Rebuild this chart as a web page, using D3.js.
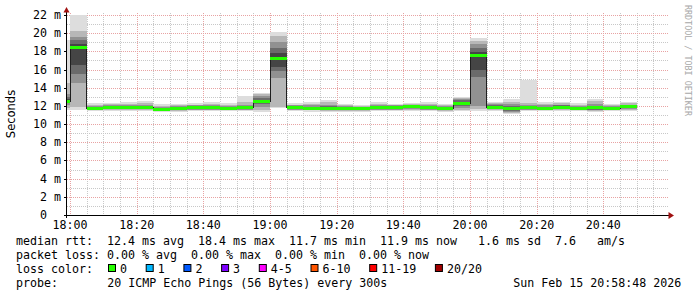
<!DOCTYPE html>
<html>
<head>
<meta charset="utf-8">
<script src="https://cdn.jsdelivr.net/npm/d3@7"></script>
<style>
    body { margin: 0; background: #fff; }
    svg text { font-family: "DejaVu Sans Mono", monospace; font-size: 11.63px; fill: #000; white-space: pre; }
</style>
</head>
<body>
<div id="chart"></div>
<script>
// 5 minute steps (start of each step)
var steps = ["17:55", "18:00", "18:05", "18:10", "18:15", "18:20", "18:25", "18:30", "18:35", "18:40",
    "18:45", "18:50", "18:55", "19:00", "19:05", "19:10", "19:15", "19:20", "19:25", "19:30",
    "19:35", "19:40", "19:45", "19:50", "19:55", "20:00", "20:05", "20:10", "20:15", "20:20",
    "20:25", "20:30", "20:35", "20:40", "20:45"];

// median rtt per step, ms
var median = [12.5, 18.4, 11.75, 11.85, 11.85, 11.8, 11.65, 11.7, 11.8, 11.8,
    11.75, 11.8, 12.5, 17.2, 11.8, 11.7, 11.75, 11.7, 11.7, 11.85,
    11.8, 11.92, 11.8, 11.75, 12.3, 17.5, 11.85, 11.75, 11.8, 11.75,
    11.85, 11.75, 11.8, 11.75, 11.9];

// smoke: sorted ping values per step (outer pair first), ms
var smoke = [
    [11.5, 11.8, 12.1, 12.3, 12.4, 12.8, 13.0, 13.3, 14.5, 19.3],
    [11.55, 11.9, 14.5, 15.5, 16.5, 18.8, 19.2, 19.6, 20.2, 22.0],
    [11.4, 11.5, 11.6, 11.65, 11.7, 11.8, 11.9, 12.0, 12.15, 12.3],
    [11.4, 11.55, 11.65, 11.7, 11.8, 11.9, 12.0, 12.1, 12.2, 12.35],
    [11.45, 11.55, 11.65, 11.75, 11.8, 11.9, 12.0, 12.1, 12.25, 12.45],
    [11.45, 11.55, 11.65, 11.7, 11.75, 11.9, 12.0, 12.15, 12.3, 12.5],
    [11.35, 11.45, 11.55, 11.6, 11.62, 11.7, 11.8, 11.9, 12.0, 12.2],
    [11.3, 11.45, 11.55, 11.6, 11.65, 11.75, 11.85, 11.95, 12.1, 12.25],
    [11.4, 11.5, 11.6, 11.7, 11.75, 11.85, 11.95, 12.05, 12.15, 12.3],
    [11.4, 11.5, 11.6, 11.7, 11.75, 11.85, 11.95, 12.1, 12.25, 12.45],
    [11.4, 11.5, 11.6, 11.65, 11.7, 11.8, 11.9, 12.0, 12.15, 12.3],
    [11.4, 11.5, 11.6, 11.65, 11.72, 11.85, 11.95, 12.1, 12.4, 13.1],
    [11.35, 11.6, 11.9, 12.2, 12.4, 12.7, 12.9, 13.1, 13.3, 13.45],
    [11.75, 11.9, 15.1, 15.8, 16.3, 17.8, 18.4, 19.07, 19.7, 20.17],
    [11.4, 11.5, 11.6, 11.7, 11.75, 11.85, 11.95, 12.05, 12.15, 12.3],
    [11.35, 11.5, 11.6, 11.65, 11.68, 11.78, 11.9, 12.05, 12.25, 12.45],
    [11.35, 11.45, 11.55, 11.6, 11.65, 11.85, 11.95, 12.1, 12.4, 12.7],
    [11.3, 11.4, 11.5, 11.55, 11.6, 11.75, 11.85, 11.95, 12.05, 12.2],
    [11.35, 11.45, 11.55, 11.6, 11.65, 11.75, 11.85, 11.9, 11.95, 12.05],
    [11.4, 11.5, 11.6, 11.7, 11.78, 11.9, 12.0, 12.1, 12.25, 12.4],
    [11.4, 11.5, 11.6, 11.7, 11.75, 11.85, 11.95, 12.05, 12.15, 12.25],
    [11.45, 11.55, 11.65, 11.75, 11.85, 12.0, 12.05, 12.1, 12.2, 12.3],
    [11.4, 11.5, 11.6, 11.7, 11.75, 11.85, 11.95, 12.05, 12.2, 12.4],
    [11.35, 11.45, 11.55, 11.65, 11.7, 11.8, 11.9, 12.0, 12.1, 12.2],
    [11.4, 11.6, 11.8, 12.0, 12.2, 12.45, 12.6, 12.75, 12.85, 12.95],
    [11.4, 11.7, 11.95, 15.2, 16.0, 17.9, 18.4, 18.8, 19.1, 19.5],
    [11.45, 11.55, 11.65, 11.75, 11.8, 12.0, 12.1, 12.2, 12.3, 12.45],
    [11.1, 11.2, 11.35, 11.45, 11.55, 11.85, 12.0, 12.2, 12.45, 12.75],
    [11.45, 11.55, 11.6, 11.7, 11.75, 11.85, 11.95, 12.1, 12.3, 14.8],
    [11.4, 11.5, 11.6, 11.65, 11.7, 11.8, 11.9, 12.05, 12.25, 12.45],
    [11.45, 11.55, 11.65, 11.75, 11.8, 11.95, 12.05, 12.15, 12.3, 12.45],
    [11.4, 11.5, 11.6, 11.65, 11.7, 11.8, 11.9, 12.0, 12.15, 12.35],
    [11.35, 11.45, 11.55, 11.6, 11.65, 11.9, 12.0, 12.2, 12.5, 12.75],
    [11.4, 11.5, 11.6, 11.65, 11.7, 11.8, 11.9, 12.0, 12.1, 12.2],
    [11.45, 11.55, 11.65, 11.75, 11.82, 11.95, 12.05, 12.15, 12.3, 12.45]
];

var yTicks = [0, 2, 4, 6, 8, 10, 12, 14, 16, 18, 20, 22];
var xTicks = ["18:00", "18:20", "18:40", "19:00", "19:20", "19:40", "20:00", "20:20", "20:40"];

var rttStats = ["12.4 ms avg", "18.4 ms max", "11.7 ms min", "11.9 ms now", " 1.6 ms sd", "7.6   am/s"];
var lossStats = ["0.00 % avg", "0.00 % max", "0.00 % min", "0.00 % now"];
var lossLabels = ["0", "1", "2", "3", "4-5", "6-10", "11-19", "20/20"];
var lossColors = ["#26ff00", "#00b8ff", "#0059ff", "#7e00ff", "#ff00ff", "#ff5500", "#ff0000", "#a10000"];
var probeText = "20 ICMP Echo Pings (56 Bytes) every 300s";
var stampText = "Sun Feb 15 20:58:48 2026";

var smokeGreys = ["#dddddd", "#b7b7b7", "#919191", "#6b6b6b", "#454545"];

var chartWidth = 697, chartHeight = 297;
var plotLeft = 67, plotRight = 667, plotTop = 15, plotBottom = 215;

var parseT = function (s) {
    var p = s.split(":");
    return new Date(2026, 1, 15, +p[0], +p[1]);
};
var stepMs = 5 * 60 * 1000;

var x = d3.scaleTime()
    .domain([parseT("18:00"), parseT("21:00")])
    .range([70, 670]);
var y = d3.scaleLinear()
    .domain([0, 22])
    .range([plotBottom, plotTop]);

var svg = d3.select("#chart").append("svg")
    .attr("width", chartWidth)
    .attr("height", chartHeight)
    .style("display", "block");

svg.append("rect").attr("width", chartWidth).attr("height", chartHeight).attr("fill", "#fff");

svg.append("clipPath").attr("id", "plotclip")
    .append("rect").attr("x", plotLeft).attr("y", 0).attr("width", plotRight - plotLeft).attr("height", plotBottom);

// grid
var grid = svg.append("g").attr("shape-rendering", "crispEdges");
var minorY = d3.range(0, 23, 1).filter(function (v) { return v % 2; });
grid.selectAll(".hmin").data(minorY).enter().append("line")
    .attr("x1", plotLeft).attr("x2", plotRight + 1)
    .attr("y1", function (d) { return Math.round(y(d)) + 0.5; })
    .attr("y2", function (d) { return Math.round(y(d)) + 0.5; })
    .attr("stroke", "#c8c8c8").attr("stroke-dasharray", "1,1");
var minorX = d3.timeMinute.every(5).range(parseT("18:00"), parseT("21:01"));
grid.selectAll(".vmin").data(minorX.filter(function (d) { return x(d) < plotRight + 2; })).enter().append("line")
    .attr("x1", function (d) { return Math.round(x(d)) + 0.5; })
    .attr("x2", function (d) { return Math.round(x(d)) + 0.5; })
    .attr("y1", 13).attr("y2", plotBottom)
    .attr("stroke", function (d) { return d.getMinutes() % 20 === 0 ? "#e8a3a3" : "#c8c8c8"; })
    .attr("stroke-dasharray", "1,1");
grid.selectAll(".hmaj").data(yTicks).enter().append("line")
    .attr("x1", plotLeft).attr("x2", plotRight + 1)
    .attr("y1", function (d) { return Math.round(y(d)) + 0.5; })
    .attr("y2", function (d) { return Math.round(y(d)) + 0.5; })
    .attr("stroke", "#e8a3a3").attr("stroke-dasharray", "1,1");

// smoke
var plot = svg.append("g").attr("clip-path", "url(#plotclip)").attr("shape-rendering", "crispEdges");
steps.forEach(function (s, i) {
    var t0 = parseT(s);
    var x0 = x(t0), x1 = x(new Date(+t0 + stepMs));
    var pings = smoke[i];
    var half = pings.length / 2;
    for (var k = 0; k < half; k++) {
        var lo = pings[k], hi = pings[pings.length - 1 - k];
        plot.append("rect")
            .attr("x", x0).attr("width", x1 - x0)
            .attr("y", y(hi)).attr("height", y(lo) - y(hi))
            .attr("fill", smokeGreys[k]);
    }
});

// median step line
var medPts = steps.map(function (s, i) { return [parseT(s), median[i]]; });
medPts.push([new Date(+parseT(steps[steps.length - 1]) + stepMs), median[median.length - 1]]);
var medLine = d3.line()
    .x(function (d) { return x(d[0]); })
    .y(function (d) { return y(d[1]); })
    .curve(d3.curveStepAfter);
plot.append("path")
    .attr("d", medLine(medPts))
    .attr("fill", "none")
    .attr("stroke", "#202020")
    .attr("stroke-width", 1);

// median loss colour band
plot.selectAll(".med").data(steps).enter().append("rect")
    .attr("x", function (d) { return x(parseT(d)); })
    .attr("width", function (d) { return x(new Date(+parseT(d) + stepMs)) - x(parseT(d)); })
    .attr("y", function (d, i) { return y(median[i]) - 1.5; })
    .attr("height", 3)
    .attr("fill", lossColors[0]);

// axes
svg.append("line").attr("x1", 66.5).attr("x2", 66.5).attr("y1", plotBottom + 3).attr("y2", 11)
    .attr("stroke", "#000");
svg.append("line").attr("x1", 64).attr("x2", 669).attr("y1", plotBottom + 0.5).attr("y2", plotBottom + 0.5)
    .attr("stroke", "#000");
svg.append("path").attr("d", "M63.5,12.5L66.5,7L69.5,12.5Z").attr("fill", "#a01010");
svg.append("path").attr("d", "M668.5,212L674,215.5L668.5,219Z").attr("fill", "#a01010");

// y labels ("0" has no unit, it sits where the digit of "n m" sits)
svg.selectAll(".ylab").data(yTicks).enter().append("text")
    .attr("x", function (d) { return d === 0 ? 47 : 61; })
    .attr("y", function (d) { return y(d) + 4; })
    .attr("text-anchor", "end")
    .text(function (d) { return d === 0 ? "0" : d + " m"; });

// y ticks
svg.selectAll(".ytick").data(yTicks).enter().append("line")
    .attr("x1", 64).attr("x2", 66)
    .attr("y1", function (d) { return Math.round(y(d)) + 0.5; })
    .attr("y2", function (d) { return Math.round(y(d)) + 0.5; })
    .attr("stroke", "#000");

// x labels
svg.selectAll(".xlab").data(xTicks).enter().append("text")
    .attr("x", function (d) { return x(parseT(d)); })
    .attr("y", 229)
    .attr("text-anchor", "middle")
    .text(function (d) { return d; });

svg.append("text")
    .attr("transform", "translate(15,114) rotate(-90)")
    .attr("text-anchor", "middle")
    .style("font-family", "'DejaVu Sans', sans-serif")
    .style("font-size", "11.5px")
    .text("Seconds");

svg.append("text")
    .attr("transform", "translate(685,5) rotate(90)")
    .style("font-size", "8.4px")
    .style("fill", "#a8a8a8")
    .text("RRDTOOL / TOBI OETIKER");

// legend, monospaced rows like rrdtool prints them
svg.append("text").attr("x", 16).attr("y", 245)
    .text("median rtt:  " + rttStats.join("  "));
svg.append("text").attr("x", 16).attr("y", 259)
    .text("packet loss: " + lossStats.join("  "));

svg.append("text").attr("x", 16).attr("y", 273).text("loss color:");
var bx = 108;
lossLabels.forEach(function (l, i) {
    svg.append("rect")
        .attr("x", bx + 0.5).attr("y", 264.5).attr("width", 7).attr("height", 7)
        .attr("fill", lossColors[i]).attr("stroke", "#000");
    svg.append("text").attr("x", bx + 12).attr("y", 273).text(l);
    bx = bx + 12 + l.length * 7 + 18.7;
});

svg.append("text").attr("x", 16).attr("y", 287).text("probe:");
svg.append("text").attr("x", 107.3).attr("y", 287).text(probeText);
svg.append("text").attr("x", 513.3).attr("y", 287).text(stampText);
</script>
</body>
</html>
